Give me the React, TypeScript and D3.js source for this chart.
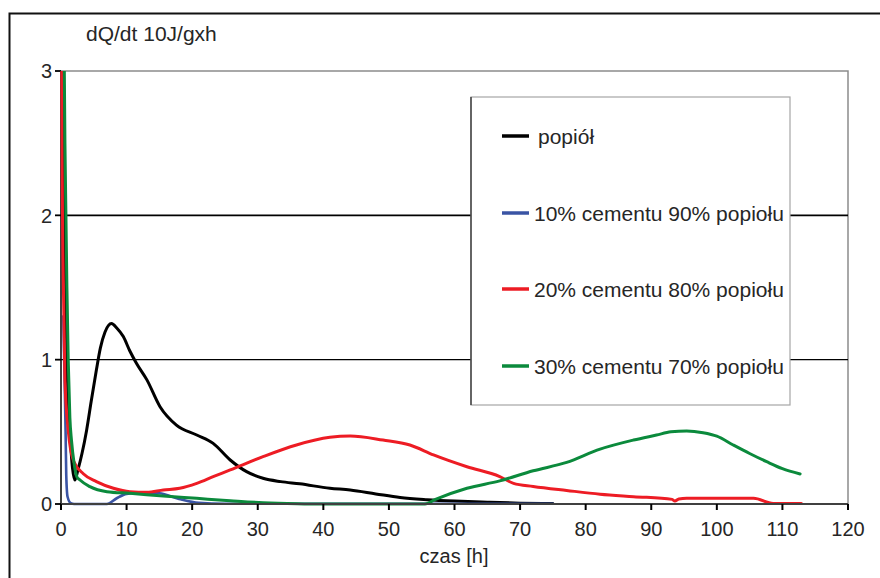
import React from "react";
import * as d3 from "d3";

// Heat flow rate dQ/dt over time for ash and ash–cement mixes
const popiol: [number, number][] = [
  [0.3, 3.3], [0.6, 1.8], [0.9, 1.0], [1.2, 0.6], [1.45, 0.42], [1.75, 0.25], [2.1, 0.166],
  [2.6, 0.24], [3.2, 0.35], [3.9, 0.51], [4.6, 0.71], [5.4, 0.93], [6.0, 1.08], [6.7, 1.19],
  [7.7, 1.25], [8.5, 1.22], [9.5, 1.16], [10.5, 1.06], [11.5, 0.975], [13.1, 0.86],
  [15.1, 0.674], [17.6, 0.547], [20.7, 0.478], [23.2, 0.42], [25.8, 0.305], [28.3, 0.224],
  [30.8, 0.178], [33.5, 0.155], [36.4, 0.14], [41, 0.109], [44.1, 0.097], [48, 0.07],
  [51.7, 0.045], [55.8, 0.03], [60, 0.02], [65, 0.012], [70, 0.006], [75, 0.003],
];

const cement10: [number, number][] = [
  [0.35, 1.3], [0.55, 0.86], [0.7, 0.5], [0.8, 0.2], [1.0, 0.05], [1.5, 0.005], [2, 0],
  [7, 0], [8.5, 0.04], [10, 0.07], [12, 0.078], [15, 0.074], [18, 0.035], [21, 0.008],
  [25, 0.002], [75, 0.002],
];

const cement20: [number, number][] = [
  [0.1, 3.3], [0.2, 2.2], [0.35, 1.55], [0.6, 0.86], [1.1, 0.51], [1.9, 0.3], [3.4, 0.21],
  [5.4, 0.155], [8, 0.109], [10.5, 0.085], [13.1, 0.081], [15.6, 0.097], [18.1, 0.109],
  [20.7, 0.143], [23.2, 0.189], [25.8, 0.236], [30.8, 0.328], [35.9, 0.409], [41, 0.462],
  [44.1, 0.471], [49.1, 0.443], [53.2, 0.409], [56.8, 0.34], [61.9, 0.258], [66.9, 0.19],
  [69, 0.143], [72, 0.122], [77.1, 0.094], [82.2, 0.068], [87.3, 0.051], [93.2, 0.032],
  [93.6, 0.02], [94.2, 0.035], [95.4, 0.039], [105.6, 0.039], [108.6, 0.003], [112.9, 0.003],
];

const cement30: [number, number][] = [
  [0.45, 3.3], [0.6, 2.5], [0.75, 2.0], [0.9, 1.5], [1.1, 1.0], [1.35, 0.6], [1.6, 0.44],
  [2.0, 0.28], [2.4, 0.19], [2.9, 0.166], [4.4, 0.12], [7, 0.085], [10.5, 0.074],
  [15.6, 0.055], [20.7, 0.039], [25.8, 0.023], [30.8, 0.009], [36, 0.002], [40, 0],
  [55.5, 0], [57, 0.03], [61.9, 0.109], [66.9, 0.16], [72, 0.23], [77.1, 0.288],
  [82.2, 0.38], [87.3, 0.443], [90.8, 0.478], [93, 0.5], [95.4, 0.506], [97.9, 0.494],
  [100, 0.47], [102.5, 0.409], [105, 0.35], [107.6, 0.293], [110, 0.245], [112.7, 0.208],
];

const seriesNames = [
  "popiół",
  "10% cementu 90% popiołu",
  "20% cementu 80% popiołu",
  "30% cementu 70% popiołu",
];
const seriesData = [popiol, cement10, cement20, cement30];
const seriesColors = ["#000000", "#3a54a4", "#ed1c24", "#0b8a3c"];

const xTicks = [0, 10, 20, 30, 40, 50, 60, 70, 80, 90, 100, 110, 120];
const yTicks = [0, 1, 2, 3];

const yTitle = "dQ/dt 10J/gxh";
const xTitle = "czas [h]";

const W = 880;
const H = 578;
const left = 61;
const right = 848;
const top = 71;
const bottom = 504;
const font = "'Liberation Sans', Arial, sans-serif";
const textColor = "#262626";

export default function App() {
  const x = d3.scaleLinear().domain([0, 120]).range([left, right]);
  const y = d3.scaleLinear().domain([0, 3]).range([bottom, top]);
  const line = d3
    .line<[number, number]>()
    .x((d) => x(d[0]))
    .y((d) => y(d[1]))
    .curve(d3.curveMonotoneX);

  const legX = 471;
  const legY = 97;
  const legW = 319;
  const legH = 308;
  const legRows = [136, 213, 289, 366];

  return (
    <svg
      width={W}
      height={H}
      viewBox={`0 0 ${W} ${H}`}
      style={{ position: "absolute", left: 0, top: 0, background: "#fff" }}
      fontFamily={font}
    >
      <defs>
        <clipPath id="plot-clip">
          <rect x={left - 4} y={top} width={right - left + 8} height={bottom - top + 4} />
        </clipPath>
      </defs>
      <rect x={0} y={0} width={W} height={H} fill="#fff" />
      {/* outer frame */}
      <path d={`M9.5,${H} V13.5 H${W}`} fill="none" stroke="#111" strokeWidth={2} />

      {/* plot frame: top and right */}
      <path
        d={`M${left},${y(3)} H${right} V${bottom}`}
        fill="none"
        stroke="#8c8c8c"
        strokeWidth={1.5}
      />

      {/* gridlines */}
      {[1, 2].map((v) => (
        <line
          key={v}
          x1={left}
          x2={right}
          y1={y(v)}
          y2={y(v)}
          stroke="#000"
          strokeWidth={v === 2 ? 1.8 : 1.2}
        />
      ))}

      {/* y axis */}
      <line x1={left} x2={left} y1={top} y2={bottom} stroke="#000" strokeWidth={1.5} />
      {yTicks.map((v) => (
        <g key={v}>
          <line x1={left - 6} x2={left} y1={y(v)} y2={y(v)} stroke="#000" strokeWidth={1.8} />
          <text
            x={52}
            y={y(v)}
            dy="0.36em"
            textAnchor="end"
            fontSize={20}
            fill={textColor}
          >
            {v}
          </text>
        </g>
      ))}

      {/* series lines */}
      <g clipPath="url(#plot-clip)">
        {seriesData.map((d, i) => (
          <path
            key={i}
            d={line(d) ?? ""}
            fill="none"
            stroke={seriesColors[i]}
            strokeWidth={i === 1 ? 2.6 : 3}
            strokeLinejoin="round"
            strokeLinecap="round"
          />
        ))}
      </g>

      {/* x axis */}
      <line x1={left} x2={right} y1={bottom} y2={bottom} stroke="#404040" strokeWidth={1.8} />
      {xTicks.map((v) => (
        <g key={v}>
          <line x1={x(v)} x2={x(v)} y1={bottom} y2={bottom + 6} stroke="#000" strokeWidth={2} />
          <text x={x(v)} y={535.5} textAnchor="middle" fontSize={20} fill={textColor}>
            {v}
          </text>
        </g>
      ))}

      <text x={454} y={563} textAnchor="middle" fontSize={20} fill={textColor}>
        {xTitle}
      </text>
      <text x={86} y={41} fontSize={21} fill={textColor}>
        {yTitle}
      </text>

      {/* legend */}
      <rect x={legX} y={legY} width={legW} height={legH} fill="#fff" stroke="#a6a6a6" strokeWidth={1.2} />
      <line x1={legX} x2={legX} y1={legY} y2={legY + legH} stroke="#222" strokeWidth={1.2} />
      {seriesNames.map((name, i) => (
        <g key={name}>
          <line
            x1={502}
            x2={529}
            y1={legRows[i]}
            y2={legRows[i]}
            stroke={seriesColors[i]}
            strokeWidth={3.5}
          />
          <text
            x={i === 0 ? 538 : 534}
            y={legRows[i]}
            dy="0.36em"
            fontSize={21}
            fill={textColor}
          >
            {name}
          </text>
        </g>
      ))}
    </svg>
  );
}
